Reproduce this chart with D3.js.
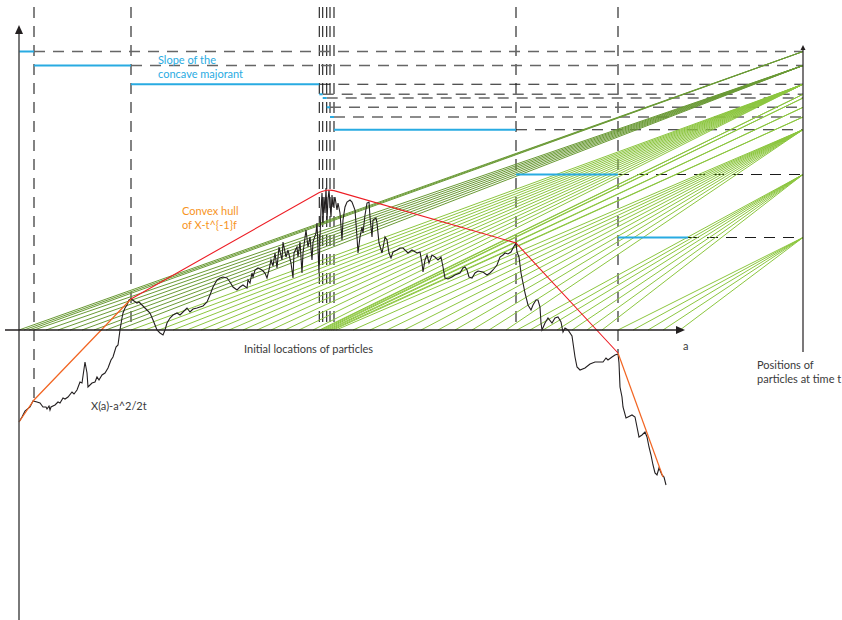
<!DOCTYPE html>
<html>
<head>
<meta charset="utf-8">
<script src="https://cdn.jsdelivr.net/npm/d3@7"></script>
<style>
body { margin: 0; background: #fff; }
text { font-family: Lato, "Noto Sans", sans-serif; }
</style>
</head>
<body>
<div id="vis"></div>
<script>
// sample path X(a) - a^2/2t as [a, value]
var curve = [
  [0,-92],[3,-87],[6,-81],[11,-77],[14,-71],[18,-72],[21,-73],[24,-77],[27,-77],[28,-79],[30,-76],[31,-80],
  [32,-77],[36,-75],[39,-72],[41,-73],[44,-68],[46,-69],[49,-67],[53,-62],[55,-64],[58,-60],[61,-52],[63,-53],
  [66,-32],[68,-43],[69,-57],[73,-53],[76,-52],[78,-47],[80,-50],[83,-45],[86,-43],[89,-38],[92,-30],[94,-27],
  [97,-17],[99,-15],[101,0],[103,12],[104,17],[106,22],[108,25],[110,30],[112,31],
  [115,29],[118,27],[120,28],[123,25],[126,22],[128,20],[131,17],[134,10],[138,0],[141,-3],[144,-5],[146,0],
  [148,7],[151,12],[154,15],[158,17],[161,15],[164,18],[168,22],[171,18],[174,21],[178,22],[181,23],[184,24],
  [188,28],[191,35],[194,43],[198,50],[201,52],[204,53],[208,52],[211,48],[214,43],[218,40],[221,43],[224,45],
  [228,42],[229,50],[231,47],[233,57],[234,53],[236,60],[239,62],[243,60],[246,57],[248,52],[250,60],
  [252,70],[254,64],[256,77],[258,62],[260,83],[263,70],[264,88],[267,73],[269,80],[272,67],[274,52],[275,77],
  [278,83],[279,73],[281,88],[283,57],[284,77],[287,100],[289,83],[291,93],[293,70],[294,88],[297,97],[298,107],
  [300,57],[301,93],[302,120],[303,137],[304,107],[305,133],[306,117],[307,142],[308,110],[309,130],[310,140],
  [312,113],[313,135],[314,123],[316,133],[318,120],[319,127],[321,117],[323,90],[324,110],[326,123],[328,128],
  [331,130],[333,128],[336,120],[338,93],[339,77],[341,93],[343,103],[344,97],[346,115],[348,127],[350,128],
  [351,113],[353,93],[354,110],[357,112],[358,107],[360,87],[363,77],[364,82],[366,93],[368,90],[370,77],
  [372,72],[374,78],[378,80],[381,82],
  [384,82],[389,77],[393,80],[398,77],[401,78],[403,67],[404,58],[406,70],[408,75],[410,67],[413,75],[416,73],
  [419,70],[422,73],[424,63],[426,52],[429,51],[433,53],[436,55],[441,57],[444,62],[446,63],[448,60],[450,53],
  [453,52],[456,57],[459,59],[464,58],[468,55],[471,57],[474,60],[478,65],[481,73],[484,75],[486,77],[489,76],
  [492,78],[494,82],[497,87],
  [498,78],[500,73],[502,57],[504,47],[506,37],[509,25],[512,20],[514,25],[517,30],[519,30],[521,23],[522,7],
  [523,0],[526,7],[529,12],[533,7],[536,12],[539,13],[542,8],[544,-2],[546,2],[549,0],[553,-6],[554,-13],
  [556,-27],[558,-37],[561,-40],[566,-38],[571,-34],[576,-32],[581,-32],[584,-32],[587,-28],[589,-30],[593,-27],
  [596,-25],[599,-24],
  [600,-33],[601,-57],[603,-67],[604,-77],[607,-88],[609,-87],[613,-85],[616,-87],[618,-97],[620,-107],
  [623,-105],[626,-102],[628,-107],[630,-117],[632,-125],[634,-135],[636,-143],[638,-145],[640,-138],
  [643,-145],[645,-147],[647,-155]
];

// vertices of the concave majorant
var hull = [[0,-92],[15,-70],[112,31],[300.3,137.5],[303.7,138.8],[307.7,139.8],[311,139.9],[315,139.4],[497,87],[599,-23],[644,-147]];

// interval ends and the slope level drawn for each interval
var breaks = [0, 15, 112, 300.3, 303.7, 307.7, 311, 315, 497, 599, 669];
var levels = [278.5, 264.5, 245.7, 235.7, 232, 222.7, 213, 200.3, 155.5, 92.5];

// initial locations of the particles
var particles = [0, 5, 10, 15, 27, 39, 51, 63, 75, 87, 99,
  112, 126, 140, 154, 168, 182, 196, 210, 224, 238, 252, 266, 280, 294,
  300.5, 302, 304, 306, 308, 310, 312, 314,
  317, 334, 351, 368, 385, 402, 419, 436, 453, 470, 487,
  498, 511, 524, 538, 553, 568, 583,
  599, 614, 629, 644, 661];

var rightA = 784;   // where the positions at time t are drawn

var width = 842, height = 620;

var svg = d3.select("#vis").append("svg")
  .attr("width", width)
  .attr("height", height);

var x = d3.scaleLinear().domain([0, 666]).range([19, 685]);
var y = d3.scaleLinear().domain([0, 300]).range([330, 30]);

function intervalOf(a) {
  for (let i = levels.length - 1; i >= 0; i--) {
    if (a >= breaks[i]) return i;
  }
  return 0;
}

// vertical dashed lines at the hull vertices
var inner = breaks.slice(1, breaks.length - 1);
svg.selectAll(".vdash")
  .data(inner)
  .enter()
  .append("line")
  .attr("x1", d => x(d)).attr("x2", d => x(d))
  .attr("y1", y(323))
  .attr("y2", (d, i) => y(Math.min(0, hull[i + 1][1])))
  .attr("stroke", (d, i) => i < 2 ? "#5a5a5a" : "#1a1a1a")
  .attr("stroke-width", (d, i) => i < 2 ? 1.5 : 1.1)
  .attr("stroke-dasharray", "11,8");

// horizontal dashed lines from the slope level to the right axis
svg.selectAll(".hdash")
  .data(levels)
  .enter()
  .append("line")
  .attr("x1", (d, i) => x(breaks[i + 1]))
  .attr("x2", x(rightA))
  .attr("y1", d => y(d)).attr("y2", d => y(d))
  .attr("stroke", (d, i) => [0, 1, 3, 4, 5].includes(i) ? "#666" : "#1a1a1a")
  .attr("stroke-width", (d, i) => [0, 1, 3, 4, 5].includes(i) ? 1.6 : 1.1)
  .attr("stroke-dasharray", "11,8");

// particle trajectories
svg.selectAll(".traj")
  .data(particles)
  .enter()
  .append("line")
  .attr("x1", d => x(d)).attr("y1", y(0))
  .attr("x2", x(rightA))
  .attr("y2", d => y(levels[intervalOf(d)]))
  .attr("stroke", d => intervalOf(d) < 2 ? "#6a9a35" : "#8cc63f")
  .attr("stroke-width", 1);

// slope of the concave majorant
svg.selectAll(".slope")
  .data(levels)
  .enter()
  .append("line")
  .attr("x1", (d, i) => x(breaks[i]))
  .attr("x2", (d, i) => x(breaks[i + 1]))
  .attr("y1", d => y(d)).attr("y2", d => y(d))
  .attr("stroke", "#29abe2")
  .attr("stroke-width", 2);

// the path
var line = d3.line().x(d => x(d[0])).y(d => y(d[1]));
svg.append("path")
  .attr("d", line(curve))
  .attr("fill", "none")
  .attr("stroke", "#231f20")
  .attr("stroke-width", 1.1);

// hull: red in the middle, orange at the ends
svg.append("path")
  .attr("d", line(hull.slice(2, hull.length - 1)))
  .attr("fill", "none").attr("stroke", "#ed1c24").attr("stroke-width", 1.1);
svg.append("path")
  .attr("d", line(hull.slice(0, 3)))
  .attr("fill", "none").attr("stroke", "#f26522").attr("stroke-width", 1.2);
svg.append("path")
  .attr("d", line(hull.slice(hull.length - 2)))
  .attr("fill", "none").attr("stroke", "#f26522").attr("stroke-width", 1.2);

// axes
function arrowUp(cx, cy, col) {
  svg.append("path")
    .attr("d", `M${cx},${cy} L${cx - 4},${cy + 9} L${cx + 4},${cy + 9} Z`)
    .attr("fill", col);
}
svg.append("line")
  .attr("x1", x(0)).attr("x2", x(0))
  .attr("y1", y(-290)).attr("y2", y(300))
  .attr("stroke", "#4d4d4d").attr("stroke-width", 1.5);
arrowUp(x(0), y(305), "#231f20");

svg.append("line")
  .attr("x1", x(-14)).attr("x2", x(660))
  .attr("y1", y(0)).attr("y2", y(0))
  .attr("stroke", "#231f20").attr("stroke-width", 1.5);
svg.append("path")
  .attr("d", `M${x(666)},${y(0)} L${x(657)},${y(0) - 4} L${x(657)},${y(0) + 4} Z`)
  .attr("fill", "#231f20");

svg.append("line")
  .attr("x1", x(rightA)).attr("x2", x(rightA))
  .attr("y1", y(-22)).attr("y2", y(282))
  .attr("stroke", "#231f20").attr("stroke-width", 1.2);
svg.append("path")
  .attr("d", `M${x(rightA)},${y(285)} L${x(rightA) - 2.5},${y(285) + 5} L${x(rightA) + 2.5},${y(285) + 5} Z`)
  .attr("fill", "#231f20");

// labels
function label(lines, px, py, col) {
  var t = svg.append("text")
    .attr("x", px).attr("y", py)
    .attr("fill", col)
    .style("font-size", "11px");
  lines.forEach((s, i) => {
    t.append("tspan").attr("x", px).attr("dy", i === 0 ? 0 : 13.5).text(s);
  });
}
label(["Slope of the", "concave majorant"], 158, 64, "#29abe2");
label(["Convex hull", "of X-t^{-1}f"], 182, 215, "#f7941d");
label(["X(a)-a^2/2t"], 91, 410, "#3a3a3a");
label(["Initial locations of particles"], 244, 353, "#3a3a3a");
label(["a"], 683, 350, "#3a3a3a");
label(["Positions of", "particles at time t"], 757, 369, "#3a3a3a");
</script>
</body>
</html>
